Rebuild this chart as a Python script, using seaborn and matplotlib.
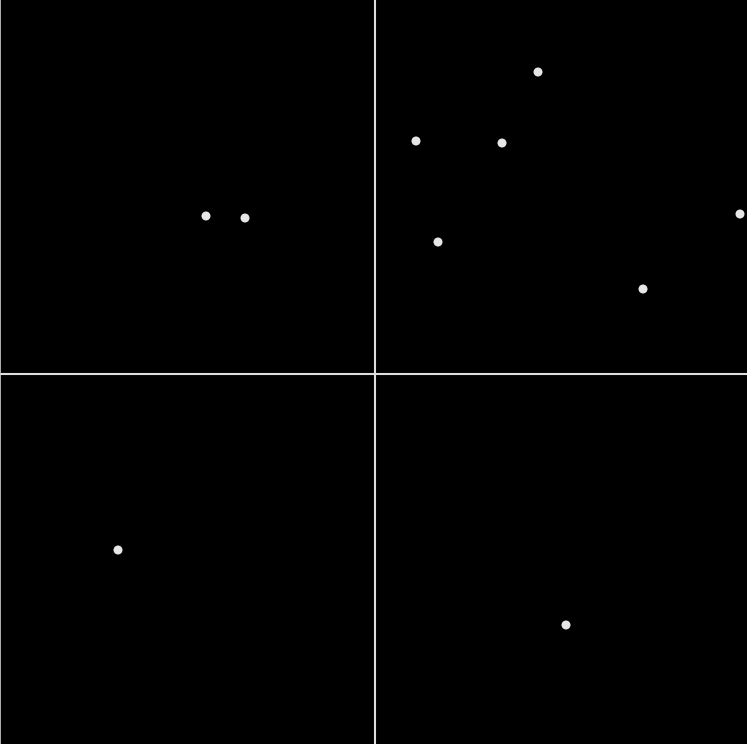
import matplotlib
matplotlib.use("Agg")
import matplotlib.pyplot as plt
import seaborn as sns
import pandas as pd

# point positions, origin at the crossing of the quadrant lines
xs = [-169, -130, 163, 41, 127, 365, 63, 268, -257, 191]
ys = [158, 156, 302, 233, 231, 160, 132, 85, -176, -251]

df = pd.DataFrame({"x": xs, "y": ys})

sns.set_style("dark")
fig = plt.figure(figsize=(7.47, 7.44), dpi=100, facecolor="black")
ax = fig.add_axes([0, 0, 1, 1])
ax.set_facecolor("black")

ax.axvline(0, color="#dedede", lw=1.5, zorder=1)
ax.axhline(0, color="#dedede", lw=1.5, zorder=1)

sns.scatterplot(data=df, x="x", y="y", ax=ax, color="#e6e6e6", s=42,
                edgecolor="none", zorder=3)

ax.set_xlim(-375, 372)
ax.set_ylim(-370, 374)
ax.set_xticks([])
ax.set_yticks([])
ax.set_xlabel("")
ax.set_ylabel("")
for side in ["top", "right", "bottom"]:
    ax.spines[side].set_visible(False)
ax.spines["left"].set_visible(True)
ax.spines["left"].set_color("#cfcfcf")
ax.spines["left"].set_linewidth(1.2)

fig.savefig("out.png", dpi=100, facecolor="black")
